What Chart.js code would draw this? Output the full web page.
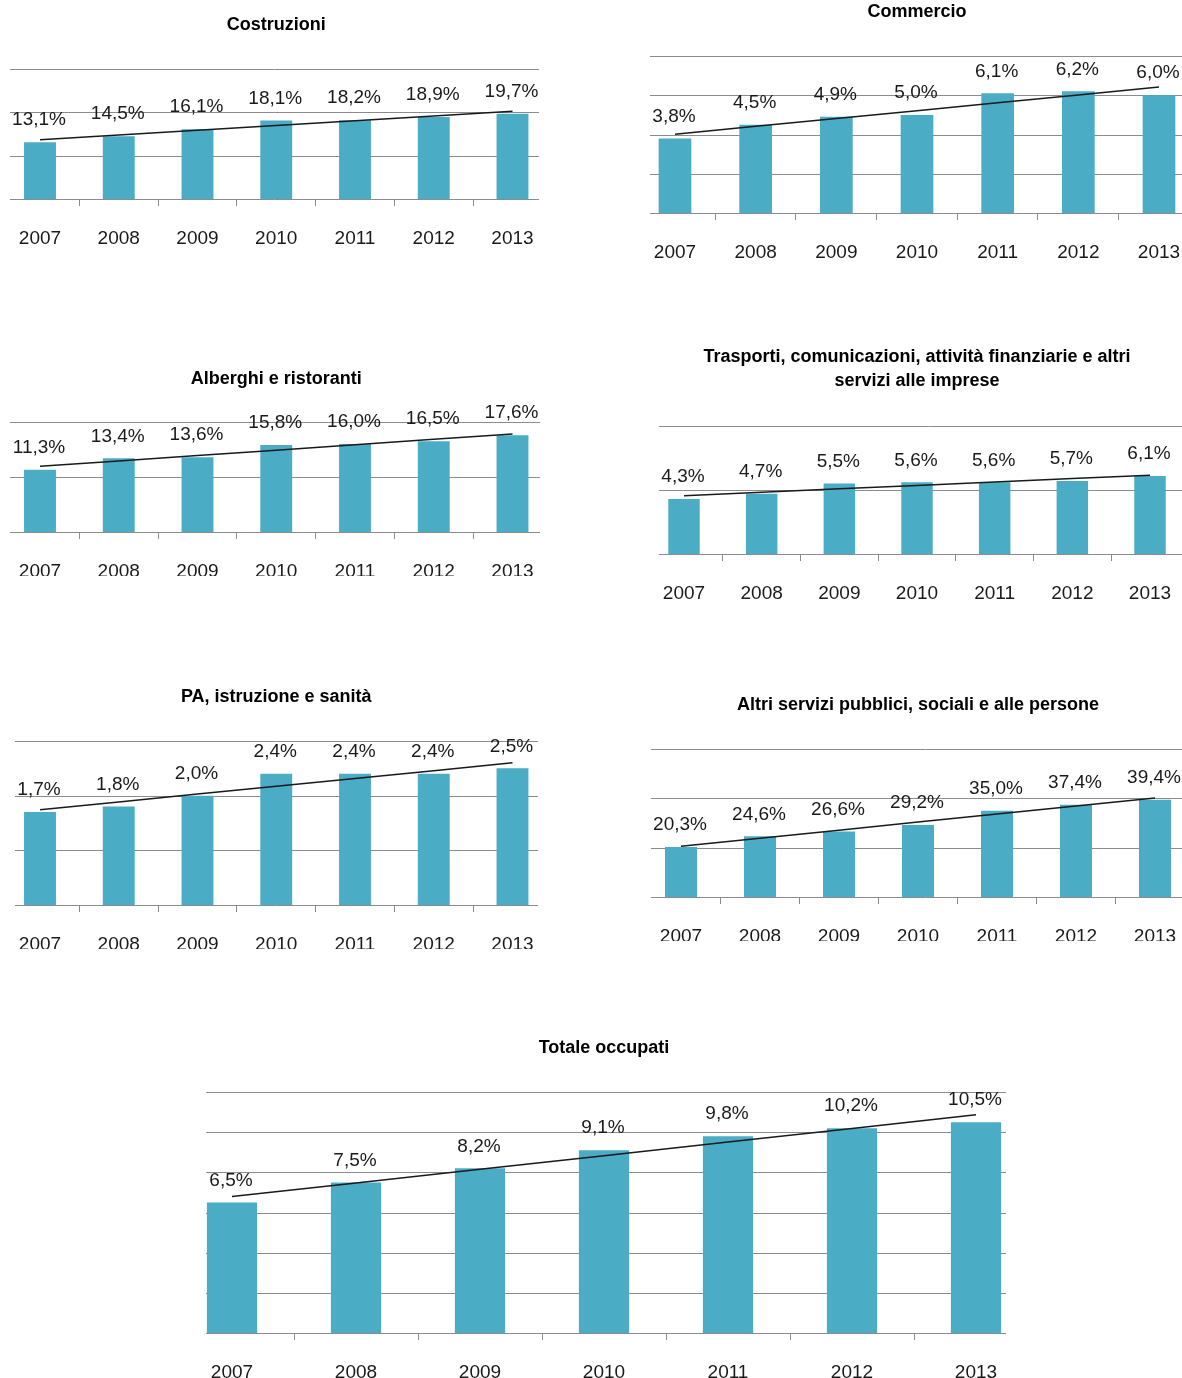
<!DOCTYPE html>
<html lang="it">
<head>
<meta charset="utf-8">
<title>Occupati per settore 2007-2013</title>
<script src="https://cdn.jsdelivr.net/npm/chart.js@4/dist/chart.umd.min.js"></script>
<style>
  html, body { margin: 0; padding: 0; background: #fff; overflow: hidden; }
  body { position: relative; width: 1182px; height: 1378px; }
  canvas { position: absolute; }
</style>
</head>
<body>
<script>
(() => {
  'use strict'

  // Dati (quote %)
  const anni = ['2007', '2008', '2009', '2010', '2011', '2012', '2013']
  const costruzioni = [13.1, 14.5, 16.1, 18.1, 18.2, 18.9, 19.7]
  const commercio = [3.8, 4.5, 4.9, 5.0, 6.1, 6.2, 6.0]
  const alberghi = [11.3, 13.4, 13.6, 15.8, 16.0, 16.5, 17.6]
  const trasporti = [4.3, 4.7, 5.5, 5.6, 5.6, 5.7, 6.1]
  const pa = [1.7, 1.8, 2.0, 2.4, 2.4, 2.4, 2.5]
  const altri = [20.3, 24.6, 26.6, 29.2, 35.0, 37.4, 39.4]
  const totale = [6.5, 7.5, 8.2, 9.1, 9.8, 10.2, 10.5]

  const BAR = '#4BACC6'
  const GRID = '#8c8c8c'
  const FONT = "'Liberation Sans', Arial, sans-serif"
  const LH = 18 * 1.35

  // posizione di ogni grafico nella pagina
  const grafici = [
    { titolo: 'Costruzioni', valori: costruzioni, max: 30, passo: 10,
      primo: 40, ultimo: 512.5, titoloY: 25, alto: 69, base: 199, taglio: 245, gridDa: 10, gridA: 539 },
    { titolo: 'Commercio', valori: commercio, max: 8, passo: 2,
      primo: 675, ultimo: 1159, titoloY: 12, alto: 56, base: 213, taglio: 258, gridDa: 650, gridA: 1200 },
    { titolo: 'Alberghi e ristoranti', valori: alberghi, max: 20, passo: 10,
      primo: 40, ultimo: 512.5, titoloY: 379, alto: 422, base: 532, taglio: 576, gridDa: 10, gridA: 540 },
    { titolo: ['Trasporti, comunicazioni, attività finanziarie e altri', 'servizi alle imprese'], valori: trasporti, max: 10, passo: 5,
      primo: 684, ultimo: 1150, titoloY: 357, alto: 426, base: 554, taglio: 599, gridDa: 659, gridA: 1200 },
    { titolo: 'PA, istruzione e sanità', valori: pa, max: 3, passo: 1,
      primo: 40, ultimo: 512.5, titoloY: 697, alto: 741, base: 905, taglio: 949, gridDa: 15, gridA: 538 },
    { titolo: 'Altri servizi pubblici, sociali e alle persone', valori: altri, max: 60, passo: 20,
      primo: 681, ultimo: 1155, titoloY: 705, alto: 749, base: 897, taglio: 941, gridDa: 651, gridA: 1200 },
    { titolo: 'Totale occupati', valori: totale, max: 12, passo: 2,
      primo: 232, ultimo: 976, titoloY: 1048, alto: 1092, base: 1333, taglio: 1378, gridDa: 206, gridA: 1006 }
  ]

  // retta di tendenza lineare (minimi quadrati)
  function tendenza(vals) {
    const n = vals.length
    const mx = (n - 1) / 2
    const my = vals.reduce((s, v) => s + v, 0) / n
    let num = 0, den = 0
    vals.forEach((v, i) => { num += (i - mx) * (v - my); den += (i - mx) * (i - mx) })
    const b = num / den
    return vals.map((_, i) => my + b * (i - mx))
  }

  // griglia orizzontale, più corta dell'area del grafico
  const griglia = {
    id: 'griglia',
    beforeDatasetsDraw(chart, args, opts) {
      const { ctx, chartArea: a } = chart
      const y = chart.scales.y
      ctx.save()
      ctx.strokeStyle = GRID
      ctx.lineWidth = 1
      for (let v = 0; v <= y.max + 1e-9; v += opts.passo) {
        const py = Math.round(y.getPixelForValue(v)) + 0.5
        ctx.beginPath()
        ctx.moveTo(a.left + opts.da, py)
        ctx.lineTo(a.right - opts.a, py)
        ctx.stroke()
      }
      ctx.restore()
    }
  }

  // etichette sopra le barre
  const etichette = {
    id: 'etichette',
    afterDatasetsDraw(chart) {
      const { ctx } = chart
      const vals = chart.data.datasets[0].data
      ctx.save()
      ctx.font = '19px ' + FONT
      ctx.fillStyle = '#1a1a1a'
      ctx.textAlign = 'center'
      ctx.textBaseline = 'middle'
      chart.getDatasetMeta(0).data.forEach((bar, i) => {
        ctx.fillText(vals[i].toFixed(1).replace('.', ',') + '%', bar.x - 1, bar.y - 22)
      })
      ctx.restore()
    }
  }

  grafici.forEach(g => {
    const passoCat = (g.ultimo - g.primo) / (anni.length - 1)
    const L = g.primo - passoCat / 2
    const R = g.ultimo + passoCat / 2
    const left = Math.floor(L - 30)
    const width = Math.ceil(R + 30 - left)
    const righe = Array.isArray(g.titolo) ? g.titolo.length : 1
    const tTop = g.titoloY - LH / 2
    const top = Math.floor(tTop)
    const height = g.taglio - top

    const canvas = document.createElement('canvas')
    canvas.width = width
    canvas.height = height
    canvas.style.left = left + 'px'
    canvas.style.top = top + 'px'
    document.body.appendChild(canvas)

    new Chart(canvas, {
      type: 'bar',
      data: {
        labels: anni,
        datasets: [{
          data: g.valori,
          backgroundColor: BAR,
          categoryPercentage: 1,
          barPercentage: 0.405,
          order: 1
        }, {
          type: 'line',
          data: tendenza(g.valori),
          borderColor: '#1a1a1a',
          borderWidth: 1.5,
          pointRadius: 0,
          tension: 0,
          fill: false,
          order: 0
        }]
      },
      options: {
        responsive: false,
        animation: false,
        events: [],
        layout: { padding: { left: L - left, right: left + width - R, top: 0, bottom: 0 } },
        scales: {
          x: {
            border: { display: false },
            grid: {
              drawOnChartArea: false,
              drawTicks: true,
              tickLength: 7,
              color: c => (c.type === 'tick' && c.index > 0) ? GRID : 'rgba(0,0,0,0)'
            },
            ticks: {
              color: '#1a1a1a',
              font: { family: FONT, size: 19 },
              padding: 21,
              autoSkip: false,
              maxRotation: 0
            },
            afterFit: s => { s.height = g.taglio - g.base }
          },
          y: { display: false, min: 0, max: g.max }
        },
        plugins: {
          legend: { display: false },
          tooltip: { enabled: false },
          title: {
            display: true,
            text: g.titolo,
            color: '#000',
            font: { family: FONT, size: 18, weight: 'bold', lineHeight: 1.35 },
            padding: { top: tTop - top, bottom: g.alto - (tTop + righe * LH) }
          },
          griglia: { passo: g.passo, da: g.gridDa - L, a: R - g.gridA }
        }
      },
      plugins: [griglia, etichette]
    })
  })
})()
</script>
</body>
</html>
